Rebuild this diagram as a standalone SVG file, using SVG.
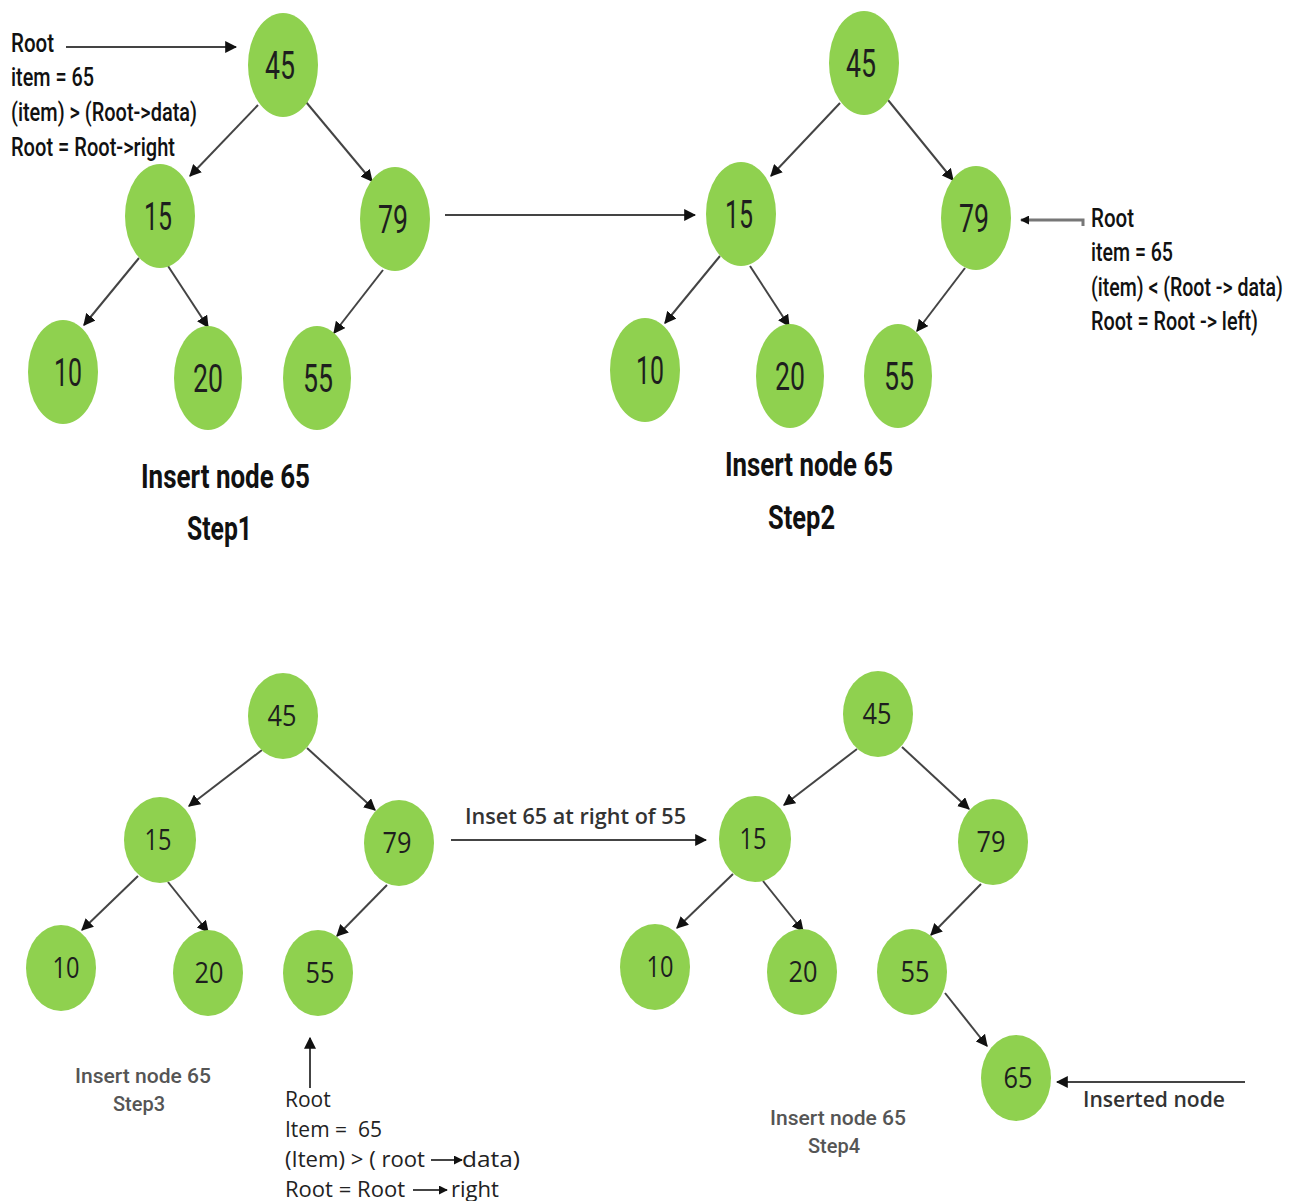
<svg xmlns="http://www.w3.org/2000/svg" width="1302" height="1201" viewBox="0 0 1302 1201">
  <style>
    .node ellipse { fill: #8fd14f; }
    .num { font-family: Roboto, "Liberation Sans", sans-serif; font-size: 38px; fill: #1e1e1e; text-anchor: middle; }
    .num2 { font-family: "Open Sans", "Liberation Sans", sans-serif; font-size: 29px; fill: #1e1e1e; text-anchor: middle; }
    .edge { stroke: #444; stroke-width: 2; fill: none; }
    .note { font-family: Roboto, "Liberation Sans", sans-serif; font-size: 25px; font-weight: 500; fill: #111; }
    .title { font-family: Roboto, "Liberation Sans", sans-serif; font-size: 33px; font-weight: bold; fill: #111; }
    .cap { font-family: Roboto, "Liberation Sans", sans-serif; font-size: 21px; font-weight: 500; fill: #555; }
    .note3 { font-family: "Open Sans", "Liberation Sans", sans-serif; font-size: 21px; fill: #222; }
    .lbl { font-family: "Open Sans", "Liberation Sans", sans-serif; font-size: 22px; font-weight: 600; fill: #333; }
  </style>
  <defs>
    <marker id="ah" viewBox="0 0 10 10" refX="9" refY="5" markerWidth="12" markerHeight="12" markerUnits="userSpaceOnUse" orient="auto">
      <path d="M0,0 L10,5 L0,10 z" fill="#111"/>
    </marker>
    <marker id="ahs" viewBox="0 0 10 10" refX="9" refY="5" markerWidth="9" markerHeight="9" markerUnits="userSpaceOnUse" orient="auto">
      <path d="M0,0 L10,5 L0,10 z" fill="#111"/>
    </marker>
  </defs>
  <rect width="1302" height="1201" fill="#ffffff"/>

  <!-- tree edges and pointer arrows -->
  <g id="connectors" class="edge" marker-end="url(#ah)">
    <!-- step 1 -->
    <line x1="258" y1="105" x2="190" y2="176"/>
    <line x1="306" y1="102" x2="372" y2="181"/>
    <line x1="139" y1="258" x2="84" y2="325"/>
    <line x1="168" y1="266" x2="208" y2="327"/>
    <line x1="383" y1="270" x2="334" y2="333"/>
    <line x1="66" y1="47" x2="236" y2="47"/>
    <line x1="445" y1="215" x2="695" y2="215"/>
    <!-- step 2 -->
    <line x1="840" y1="103" x2="771" y2="176"/>
    <line x1="888" y1="100" x2="953" y2="180"/>
    <line x1="720" y1="256" x2="665" y2="323"/>
    <line x1="750" y1="266" x2="789" y2="326"/>
    <line x1="965" y1="268" x2="917" y2="331"/>
    <polyline points="1083,226 1083,220 1021,220" stroke="#777" stroke-width="3" marker-end="url(#ahs)"/>
    <!-- step 3 -->
    <line x1="262" y1="750" x2="189" y2="806"/>
    <line x1="307" y1="748" x2="375" y2="810"/>
    <line x1="138" y1="876" x2="82" y2="930"/>
    <line x1="168" y1="882" x2="208" y2="932"/>
    <line x1="387" y1="885" x2="337" y2="936"/>
    <line x1="310" y1="1088" x2="310" y2="1038"/>
    <line x1="451" y1="840" x2="706" y2="840"/>
    <line x1="431" y1="1160" x2="462" y2="1160" marker-end="url(#ahs)"/>
    <line x1="413" y1="1190" x2="447" y2="1190" marker-end="url(#ahs)"/>
    <!-- step 4 -->
    <line x1="857" y1="749" x2="784" y2="805"/>
    <line x1="902" y1="747" x2="969" y2="809"/>
    <line x1="733" y1="874" x2="677" y2="928"/>
    <line x1="763" y1="881" x2="803" y2="931"/>
    <line x1="981" y1="884" x2="931" y2="935"/>
    <line x1="945" y1="993" x2="987" y2="1046"/>
    <line x1="1245" y1="1082" x2="1057" y2="1082"/>
  </g>

  <!-- step 1 tree -->
  <g id="s1-45" class="node"><ellipse cx="283" cy="65" rx="35" ry="52"/><text class="num" x="280" y="79" textLength="30" lengthAdjust="spacingAndGlyphs">45</text></g>
  <g id="s1-15" class="node"><ellipse cx="160" cy="216" rx="35" ry="52"/><text class="num" x="158" y="230" textLength="28" lengthAdjust="spacingAndGlyphs">15</text></g>
  <g id="s1-79" class="node"><ellipse cx="395" cy="219" rx="35" ry="52"/><text class="num" x="393" y="233" textLength="30" lengthAdjust="spacingAndGlyphs">79</text></g>
  <g id="s1-10" class="node"><ellipse cx="63" cy="372" rx="35" ry="52"/><text class="num" x="68" y="386" textLength="28" lengthAdjust="spacingAndGlyphs">10</text></g>
  <g id="s1-20" class="node"><ellipse cx="208" cy="378" rx="34" ry="52"/><text class="num" x="208" y="392" textLength="30" lengthAdjust="spacingAndGlyphs">20</text></g>
  <g id="s1-55" class="node"><ellipse cx="317" cy="378" rx="34" ry="52"/><text class="num" x="318" y="392" textLength="30" lengthAdjust="spacingAndGlyphs">55</text></g>

  <g id="s1-notes">
    <text class="note" x="11" y="52" textLength="43" lengthAdjust="spacingAndGlyphs">Root</text>
    <text class="note" x="11" y="86" textLength="83" lengthAdjust="spacingAndGlyphs">item = 65</text>
    <text class="note" x="11" y="121" textLength="186" lengthAdjust="spacingAndGlyphs">(item) &gt; (Root-&gt;data)</text>
    <text class="note" x="11" y="156" textLength="164" lengthAdjust="spacingAndGlyphs">Root = Root-&gt;right</text>
    <text class="title" x="141" y="488" textLength="169" lengthAdjust="spacingAndGlyphs">Insert node 65</text>
    <text class="title" x="187" y="540" textLength="65" lengthAdjust="spacingAndGlyphs">Step1</text>
  </g>

  <!-- step 2 tree -->
  <g id="s2-45" class="node"><ellipse cx="864" cy="63" rx="35" ry="52"/><text class="num" x="861" y="77" textLength="30" lengthAdjust="spacingAndGlyphs">45</text></g>
  <g id="s2-15" class="node"><ellipse cx="741" cy="214" rx="35" ry="52"/><text class="num" x="739" y="228" textLength="28" lengthAdjust="spacingAndGlyphs">15</text></g>
  <g id="s2-79" class="node"><ellipse cx="976" cy="218" rx="35" ry="52"/><text class="num" x="974" y="232" textLength="30" lengthAdjust="spacingAndGlyphs">79</text></g>
  <g id="s2-10" class="node"><ellipse cx="645" cy="370" rx="35" ry="52"/><text class="num" x="650" y="384" textLength="28" lengthAdjust="spacingAndGlyphs">10</text></g>
  <g id="s2-20" class="node"><ellipse cx="790" cy="376" rx="34" ry="52"/><text class="num" x="790" y="390" textLength="30" lengthAdjust="spacingAndGlyphs">20</text></g>
  <g id="s2-55" class="node"><ellipse cx="898" cy="376" rx="34" ry="52"/><text class="num" x="899" y="390" textLength="30" lengthAdjust="spacingAndGlyphs">55</text></g>

  <g id="s2-notes">
    <text class="note" x="1091" y="227" textLength="43" lengthAdjust="spacingAndGlyphs">Root</text>
    <text class="note" x="1091" y="261" textLength="82" lengthAdjust="spacingAndGlyphs">item = 65</text>
    <!-- horizontally squeezed so the long line stays clear of the right edge -->
    <text class="note" transform="translate(1091,296) scale(0.78,1)" textLength="246" lengthAdjust="spacingAndGlyphs">(item) &lt; (Root -&gt; data)</text>
    <text class="note" x="1091" y="330" textLength="167" lengthAdjust="spacingAndGlyphs">Root = Root -&gt; left)</text>
    <text class="title" x="725" y="476" textLength="168" lengthAdjust="spacingAndGlyphs">Insert node 65</text>
    <text class="title" x="768" y="529" textLength="67" lengthAdjust="spacingAndGlyphs">Step2</text>
  </g>

  <!-- step 3 tree -->
  <g id="s3-45" class="node"><ellipse cx="283" cy="716" rx="35" ry="43"/><text class="num2" x="282" y="726" textLength="29" lengthAdjust="spacingAndGlyphs">45</text></g>
  <g id="s3-15" class="node"><ellipse cx="160" cy="840" rx="36" ry="43"/><text class="num2" x="158" y="850" textLength="27" lengthAdjust="spacingAndGlyphs">15</text></g>
  <g id="s3-79" class="node"><ellipse cx="399" cy="843" rx="35" ry="43"/><text class="num2" x="397" y="853" textLength="29" lengthAdjust="spacingAndGlyphs">79</text></g>
  <g id="s3-10" class="node"><ellipse cx="61" cy="968" rx="35" ry="43"/><text class="num2" x="66" y="978" textLength="27" lengthAdjust="spacingAndGlyphs">10</text></g>
  <g id="s3-20" class="node"><ellipse cx="208" cy="973" rx="35" ry="43"/><text class="num2" x="209" y="983" textLength="29" lengthAdjust="spacingAndGlyphs">20</text></g>
  <g id="s3-55" class="node"><ellipse cx="318" cy="973" rx="35" ry="43"/><text class="num2" x="320" y="983" textLength="29" lengthAdjust="spacingAndGlyphs">55</text></g>

  <g id="s3-notes">
    <text class="cap" x="143" y="1083" text-anchor="middle" textLength="136" lengthAdjust="spacingAndGlyphs">Insert node 65</text>
    <text class="cap" x="139" y="1111" text-anchor="middle" textLength="52" lengthAdjust="spacingAndGlyphs">Step3</text>
    <text class="note3" x="285" y="1107">Root</text>
    <text class="note3" x="285" y="1137" xml:space="preserve">Item =  65</text>
    <text class="note3" x="285" y="1167" textLength="140" lengthAdjust="spacingAndGlyphs">(Item) &gt; ( root</text>
    <text class="note3" x="462" y="1167" textLength="58" lengthAdjust="spacingAndGlyphs">data)</text>
    <text class="note3" x="285" y="1197" textLength="120" lengthAdjust="spacingAndGlyphs">Root = Root</text>
    <text class="note3" x="451" y="1197" textLength="48" lengthAdjust="spacingAndGlyphs">right</text>
    <text class="lbl" x="465" y="824" textLength="221" lengthAdjust="spacingAndGlyphs">Inset 65 at right of 55</text>
  </g>

  <!-- step 4 tree -->
  <g id="s4-45" class="node"><ellipse cx="878" cy="714" rx="35" ry="43"/><text class="num2" x="877" y="724" textLength="29" lengthAdjust="spacingAndGlyphs">45</text></g>
  <g id="s4-15" class="node"><ellipse cx="755" cy="839" rx="36" ry="43"/><text class="num2" x="753" y="849" textLength="27" lengthAdjust="spacingAndGlyphs">15</text></g>
  <g id="s4-79" class="node"><ellipse cx="993" cy="842" rx="35" ry="43"/><text class="num2" x="991" y="852" textLength="29" lengthAdjust="spacingAndGlyphs">79</text></g>
  <g id="s4-10" class="node"><ellipse cx="655" cy="967" rx="35" ry="43"/><text class="num2" x="660" y="977" textLength="27" lengthAdjust="spacingAndGlyphs">10</text></g>
  <g id="s4-20" class="node"><ellipse cx="802" cy="972" rx="35" ry="43"/><text class="num2" x="803" y="982" textLength="29" lengthAdjust="spacingAndGlyphs">20</text></g>
  <g id="s4-55" class="node"><ellipse cx="912" cy="972" rx="35" ry="43"/><text class="num2" x="915" y="982" textLength="29" lengthAdjust="spacingAndGlyphs">55</text></g>
  <g id="s4-65" class="node"><ellipse cx="1016" cy="1078" rx="35" ry="43"/><text class="num2" x="1018" y="1088" textLength="29" lengthAdjust="spacingAndGlyphs">65</text></g>

  <g id="s4-notes">
    <text class="cap" x="838" y="1125" text-anchor="middle" textLength="136" lengthAdjust="spacingAndGlyphs">Insert node 65</text>
    <text class="cap" x="834" y="1153" text-anchor="middle" textLength="52" lengthAdjust="spacingAndGlyphs">Step4</text>
    <text class="lbl" x="1083" y="1107" textLength="142" lengthAdjust="spacingAndGlyphs">Inserted node</text>
  </g>
</svg>
